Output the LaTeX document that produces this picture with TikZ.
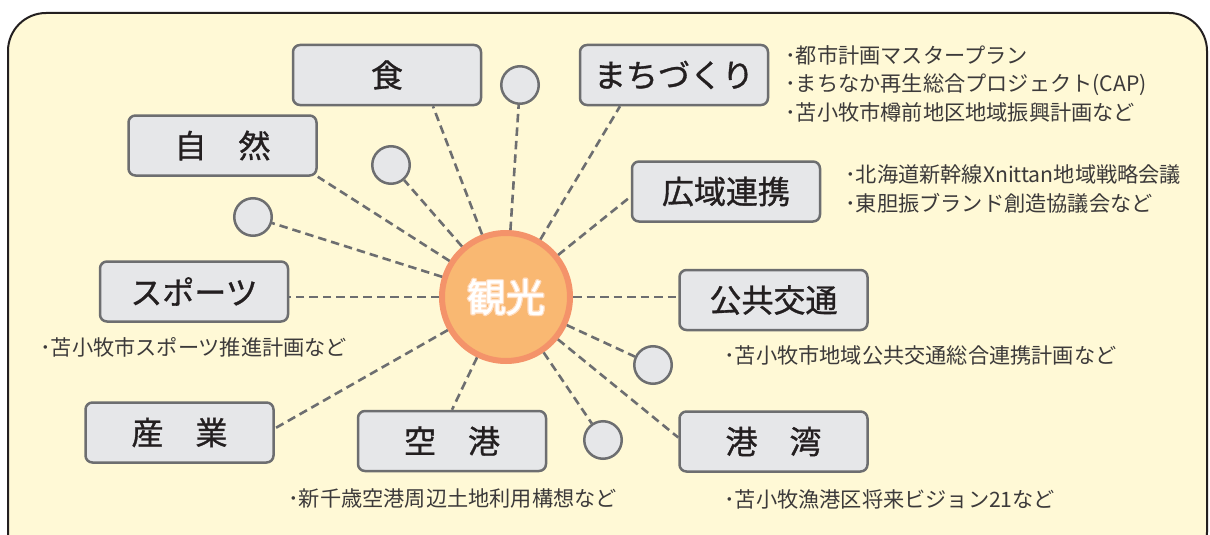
\documentclass[tikz,border=0pt]{standalone}
\usepackage{fontspec}
\setmainfont{Noto Sans CJK JP}
\newfontfamily\labfont[FakeBold=1]{Noto Sans CJK JP}
\definecolor{bgc}{RGB}{255,249,214}
\definecolor{boxfill}{RGB}{230,231,233}
\definecolor{boxline}{RGB}{109,110,112}
\definecolor{kfill}{RGB}{249,184,114}
\definecolor{kline}{RGB}{244,147,106}
\definecolor{ink}{RGB}{35,31,32}
\definecolor{note}{RGB}{60,58,58}
\definecolor{glow}{RGB}{255,220,190}
\tikzset{
  topic/.style={draw=boxline, fill=boxfill, line width=2.5pt, rounded corners=7pt,
    minimum width=188pt, minimum height=60pt, inner sep=0pt, text=ink,
    font=\labfont\fontsize{32}{34}\selectfont},
  blank/.style={circle, draw=boxline, fill=boxfill, line width=2.5pt,
    minimum size=37.5pt, inner sep=0pt},
  link/.style={draw=boxline, line width=2.6pt, dash pattern=on 8.5pt off 5pt},
  notes/.style={anchor=west, align=left, inner sep=0pt, text=note,
    font=\fontsize{21.2}{28.5}\selectfont}
}
\begin{document}
\begin{tikzpicture}[x=1pt,y=-1pt]
\useasboundingbox (0,0) rectangle (1210,535);
\begin{scope}
\clip (0,0) rectangle (1210,535);
\draw[draw=ink, fill=bgc, line width=2pt, rounded corners=38pt] (8,13) rectangle (1207,570);
\end{scope}

% center
\node[circle, draw=kline, fill=kfill, line width=6pt, minimum size=128pt, inner sep=0pt] (kanko) at (506,297) {};
\foreach \dx/\dy in {-1.2/0,1.2/0,0/-1.2,0/1.2,-0.9/-0.9,0.9/0.9,-0.9/0.9,0.9/-0.9}
  \node[text=glow, font=\labfont\fontsize{39}{41}\selectfont] at ([xshift=\dx pt,yshift=\dy pt]kanko.center) {観光};
\node[text=white, font=\labfont\fontsize{39}{41}\selectfont] (klabel) at (kanko.center) {観光};

% topic boxes
\node[topic] (shoku)  at (387,75)    {食};
\node[topic] (shizen) at (222.5,145.5) {自　然};
\node[topic] (machi)  at (674,75)    {まちづくり};
\node[topic] (koiki)  at (726,191.5) {広域連携};
\node[topic] (kokyo)  at (773.5,300) {公共交通};
\node[topic] (sports) at (194,291.5) {スポーツ};
\node[topic] (sangyo) at (179.5,432.5) {産　業};
\node[topic] (kuko)   at (452,441)   {空　港};
\node[topic] (kowan)  at (773.5,441.5) {港　湾};

% blank circles
\node[blank] (c1) at (520,85) {};
\node[blank] (c2) at (391,165) {};
\node[blank] (c3) at (253,217) {};
\node[blank] (c4) at (653,365) {};
\node[blank] (c5) at (603,440) {};

% connectors
\draw[link] (kanko) -- ([xshift=46pt]shoku.south);
\draw[link] (kanko) -- (c1);
\draw[link] (kanko) -- ([xshift=-54pt]machi.south);
\draw[link] (kanko) -- ([yshift=-5pt]koiki.west);
\draw[link] (kanko.east) -- (kokyo.west |- kanko.east);
\draw[link] (kanko) -- (c4);
\draw[link] (kanko) -- ([yshift=4pt]kowan.west);
\draw[link] (kanko) -- (c5);
\draw[link] (kanko) -- (kuko.north);
\draw[link] (kanko) -- ([yshift=4pt]sangyo.east);
\draw[link] (kanko.west) -- (sports.east |- kanko.west);
\draw[link] (kanko) -- (c3);
\draw[link] (kanko) -- (shizen.south east);
\draw[link] (kanko) -- (c2);

% notes
\node[notes] (nmachi) at (785,83.5) {･都市計画マスタープラン\\･まちなか再生総合プロジェクト(CAP)\\･苫小牧市樽前地区地域振興計画など};
\node[notes] (nkoiki) at (845,189) {･北海道新幹線Xnittan地域戦略会議\\･東胆振ブランド創造協議会など};
\node[notes] (nsports) at (40,347) {･苫小牧市スポーツ推進計画など};
\node[notes] (nkokyo) at (724,355) {･苫小牧市地域公共交通総合連携計画など};
\node[notes] (nkuko) at (288,499) {･新千歳空港周辺土地利用構想など};
\node[notes] (nkowan) at (724,499) {･苫小牧漁港区将来ビジョン21など};
\end{tikzpicture}
\end{document}
